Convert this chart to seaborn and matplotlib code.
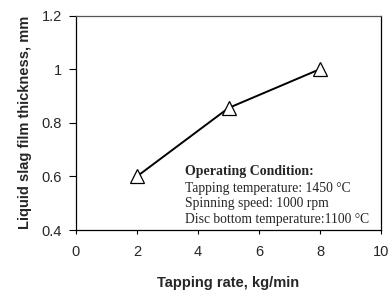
import matplotlib
matplotlib.use("Agg")
import matplotlib.pyplot as plt
import seaborn as sns
import pandas as pd

# data
tapping_rate = [2, 5, 8]
film_thickness = [0.6, 0.855, 1.0]
x_ticks = [0, 2, 4, 6, 8, 10]
y_ticks = [0.4, 0.6, 0.8, 1.0, 1.2]
y_tick_labels = ["0.4", "0.6", "0.8", "1", "1.2"]

condition_title = "Operating Condition:"
condition_lines = ["Tapping temperature: 1450 \u00b0C",
                   "Spinning speed: 1000 rpm",
                   "Disc bottom temperature:1100 \u00b0C"]

df = pd.DataFrame({"rate": tapping_rate, "thickness": film_thickness})

sns.set_style("ticks")
plt.rcParams['font.family'] = ['Liberation Sans', 'DejaVu Sans']

fig = plt.figure(figsize=(3.91, 2.90), dpi=100)
ax = fig.add_axes([76/391, 60/290, 305/391, 214.5/290])

sns.lineplot(data=df, x="rate", y="thickness", ax=ax, color="black",
             linewidth=1.4, marker="^", markersize=10,
             markerfacecolor="white", markeredgecolor="black", markeredgewidth=0.9)

ax.set_xlim(0, 10)
ax.set_ylim(0.4, 1.2)
ax.set_xticks(x_ticks)
ax.set_yticks(y_ticks)
ax.set_yticklabels(y_tick_labels)
ax.tick_params(labelsize=10.5, width=0.8, color="black")
ax.tick_params(axis="y", length=5, pad=5)
ax.tick_params(axis="x", length=3, pad=8)
for s in ax.spines.values():
    s.set_visible(True)
    s.set_color("black")
    s.set_linewidth(0.9)
ax.spines["top"].set_color("#555555")

ax.set_xlabel("Tapping rate, kg/min", fontsize=10.5, fontweight="bold", labelpad=12)
ax.set_ylabel("Liquid slag film thickness, mm", fontsize=10.5, fontweight="bold", labelpad=7)

serif = ['Liberation Serif', 'DejaVu Serif']
tx = 3.57
ax.text(tx, 0.62, condition_title, fontsize=10, fontweight="bold", family=serif, va="center")
for yy, line in zip([0.556, 0.499, 0.441], condition_lines):
    ax.text(tx, yy, line, fontsize=9.8, family=serif, va="center")

fig.savefig("out.png", dpi=100)
